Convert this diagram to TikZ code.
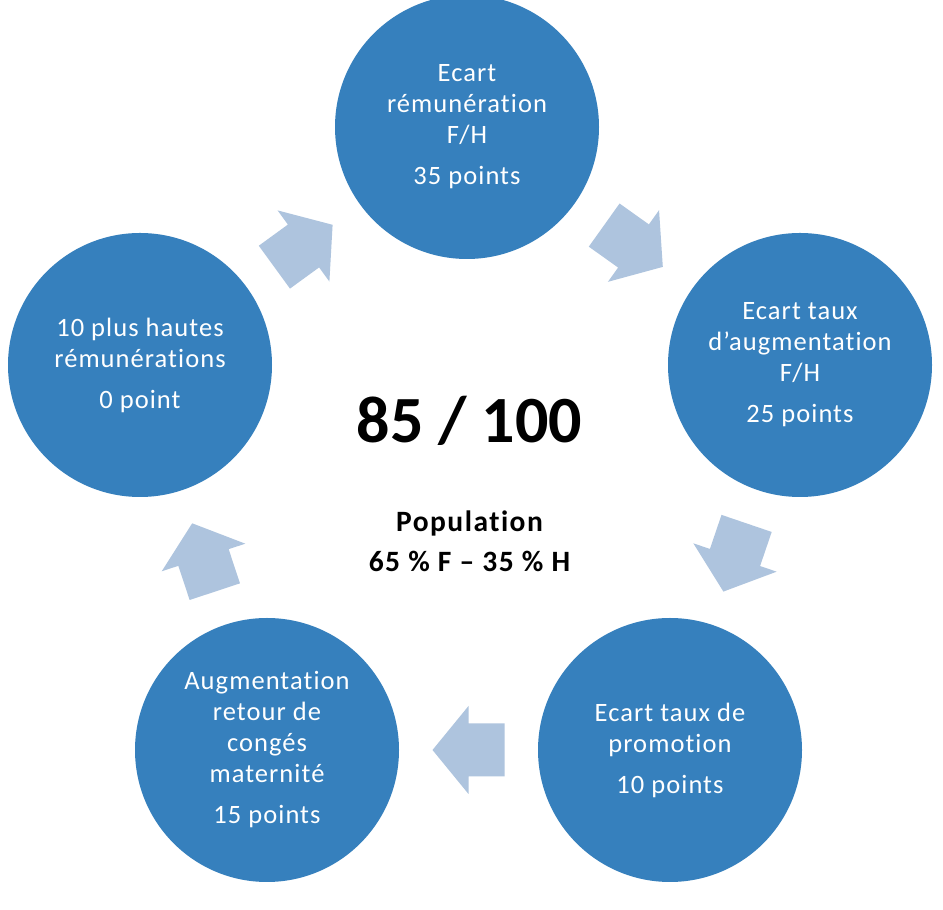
\documentclass[tikz,border=0pt]{standalone}
\usepackage{fontspec}
\setmainfont{Carlito}[Ligatures=NoCommon]
\newfontfamily\circfont{Carlito}[LetterSpace=4, Ligatures=NoCommon]
\newfontfamily\popfont{Carlito}[LetterSpace=5, Ligatures=NoCommon]
\usetikzlibrary{calc}
\definecolor{circblue}{RGB}{54,128,189}
\definecolor{arrowblue}{RGB}{174,196,222}
\tikzset{
  circ/.style={circle, fill=circblue, minimum size=264pt, inner sep=0pt,
    text=white, align=center, font=\circfont\fontsize{26.5}{31}\selectfont},
  blockarrow/.style={fill=arrowblue},
  poptext/.style={anchor=base, font=\popfont\bfseries\fontsize{29.5}{36}\selectfont},
}
\newcommand\flecha[3]{%
  \fill[blockarrow, shift={($(#1)!0.5!(#2)$)}, rotate=#3]
    (-36,-26.5) -- (0,-26.5) -- (0,-44) -- (36,0) -- (0,44) -- (0,26.5) -- (-36,26.5) -- cycle;}
\begin{document}
\begin{tikzpicture}[x=1pt,y=1pt]
\useasboundingbox (0,0) rectangle (943,910);
\clip (0,0) rectangle (943,910);
\fill[white] (0,0) rectangle (943,910);

\node[circ] (T)  at (467,783) {Ecart\\rémunération\\F/H\\[10pt]35 points};
\node[circ] (R)  at (800,545) {Ecart taux\\d’augmentation\\F/H\\[10pt]25 points};
\node[circ] (BR) at (670,160) {Ecart taux de\\promotion\\[10pt]10 points};
\node[circ] (BL) at (267,160) {Augmentation\\retour de\\congés\\maternité\\[10pt]15 points};
\node[circ] (L)  at (140,545) {10 plus hautes\\rémunérations\\[10pt]0 point};

\flecha{L}{T}{36.05}
\flecha{T}{R}{-35.5}
\flecha{R}{BR}{-108.8}
\flecha{BR}{BL}{180}
\flecha{BL}{L}{108.3}

\node[anchor=base, font=\bfseries\fontsize{66}{70}\selectfont] (score) at (469.5,467) {85 / 100};
\node[poptext] (pop) at (469.5,378) {Population};
\node[poptext] (ratio) at (469.5,338) {65 \% F – 35 \% H};
\end{tikzpicture}
\end{document}
